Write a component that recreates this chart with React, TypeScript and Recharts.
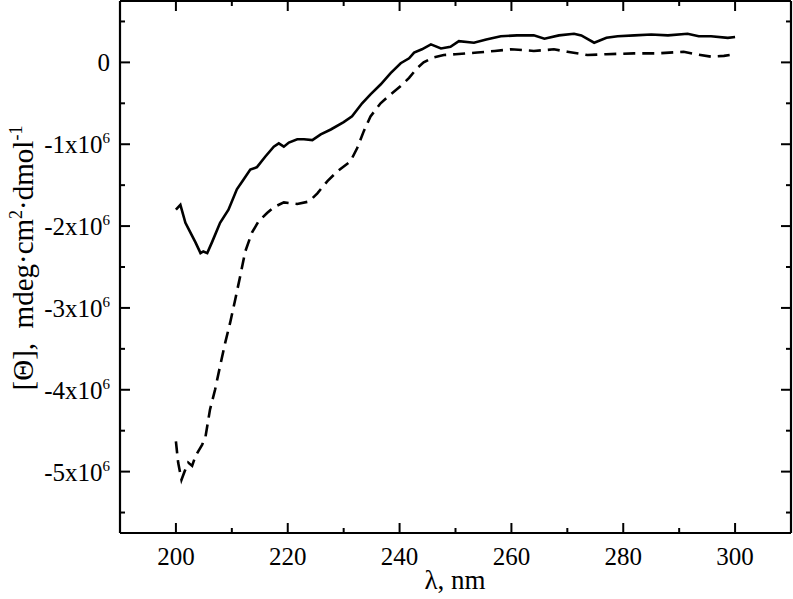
import React from 'react';
import { LineChart, Line, XAxis, YAxis } from 'recharts';

const FONT = '"Liberation Serif", "Times New Roman", Times, serif';

// wavelength, nm
const solidLambda = [
  200.0, 200.8, 201.7, 202.6, 203.5, 204.4, 204.9, 205.6, 206.5, 207.9,
  209.4, 210.9, 212.1, 213.3, 214.5, 216.0, 217.5, 218.4, 219.3, 220.2,
  221.7, 222.9, 224.4, 225.9, 227.7, 230.0, 231.5, 233.3, 234.8, 236.6,
  238.4, 240.2, 241.7, 242.6, 244.0, 245.6, 247.4, 249.1, 250.6, 253.3,
  255.5, 258.1, 261.0, 264.0, 265.9, 268.5, 271.2, 272.5, 274.8, 277.0,
  279.0, 282.0, 285.0, 288.0, 291.5, 293.5, 295.7, 298.7, 300.0,
];
// [Θ] in units of 10^6 mdeg·cm²·dmol⁻¹
const solidTheta = [
  -1.80, -1.74, -1.96, -2.08, -2.20, -2.33, -2.31, -2.33, -2.19, -1.96,
  -1.80, -1.55, -1.43, -1.31, -1.28, -1.15, -1.03, -0.99, -1.03, -0.98,
  -0.94, -0.94, -0.95, -0.88, -0.82, -0.73, -0.66, -0.50, -0.39, -0.27,
  -0.13, -0.01, 0.05, 0.12, 0.16, 0.22, 0.17, 0.19, 0.26, 0.24,
  0.28, 0.32, 0.33, 0.33, 0.29, 0.33, 0.35, 0.33, 0.24, 0.30,
  0.32, 0.33, 0.34, 0.33, 0.35, 0.32, 0.32, 0.30, 0.31,
];

const dashedLambda = [
  200.0, 200.4, 201.0, 201.6, 202.2, 202.9, 203.5, 204.7, 205.3, 206.1,
  207.0, 207.9, 208.8, 209.7, 210.6, 211.5, 212.4, 213.6, 214.8, 216.3,
  217.5, 219.3, 221.7, 223.8, 225.3, 227.1, 228.9, 231.2, 232.4, 233.6,
  234.8, 236.6, 238.4, 240.2, 241.7, 243.0, 244.3, 246.0, 247.9, 250.0,
  253.9, 257.0, 259.9, 262.0, 264.0, 266.0, 267.6, 270.0, 273.6, 277.0,
  281.9, 286.0, 290.8, 293.0, 295.7, 298.0, 300.0,
];
const dashedTheta = [
  -4.63, -4.89, -5.10, -4.99, -4.89, -4.93, -4.81, -4.67, -4.57, -4.24,
  -4.00, -3.71, -3.43, -3.18, -2.90, -2.61, -2.31, -2.08, -1.94, -1.84,
  -1.77, -1.71, -1.73, -1.70, -1.60, -1.45, -1.33, -1.21, -1.05, -0.84,
  -0.66, -0.50, -0.39, -0.29, -0.19, -0.08, 0.00, 0.06, 0.09, 0.10,
  0.12, 0.14, 0.16, 0.15, 0.14, 0.15, 0.16, 0.13, 0.09, 0.10,
  0.11, 0.11, 0.13, 0.10, 0.07, 0.08, 0.10,
];

const xTicks = [200, 210, 220, 230, 240, 250, 260, 270, 280, 290, 300];
const xLabeledTicks = [200, 220, 240, 260, 280, 300];
const yTicks = [0.5, 0, -0.5, -1, -1.5, -2, -2.5, -3, -3.5, -4, -4.5, -5, -5.5];
const yLabeledTicks = [0, -1, -2, -3, -4, -5];

const xDomain = [190, 310];
const yDomain = [-5.75, 0.75];

const solidData = solidLambda.map((x, i) => ({ x, v: solidTheta[i] }));
const dashedData = dashedLambda.map((x, i) => ({ x, v: dashedTheta[i] }));

const isXLabeled = (v: number) => xLabeledTicks.some((t) => Math.abs(t - v) < 1e-6);
const isYLabeled = (v: number) => yLabeledTicks.some((t) => Math.abs(t - v) < 1e-6);

const MAJ = 10;
const MIN = 5;

const BottomTick = (props: any) => {
  const { x, y, payload } = props;
  const v = payload.value;
  const major = isXLabeled(v);
  return (
    <g>
      <line x1={x} y1={y} x2={x} y2={y - (major ? MAJ : MIN)} stroke="#000" strokeWidth={2} />
      {major && (
        <text x={x} y={y + 32} textAnchor="middle" fontFamily={FONT} fontSize={25} fill="#000">
          {v}
        </text>
      )}
    </g>
  );
};

const TopTick = (props: any) => {
  const { x, y, payload } = props;
  const major = isXLabeled(payload.value);
  return <line x1={x} y1={y} x2={x} y2={y + (major ? MAJ : MIN)} stroke="#000" strokeWidth={2} />;
};

const LeftTick = (props: any) => {
  const { x, y, payload } = props;
  const v = payload.value;
  const major = isYLabeled(v);
  const n = Math.round(v);
  return (
    <g>
      <line x1={x} y1={y} x2={x + (major ? MAJ : MIN)} y2={y} stroke="#000" strokeWidth={2} />
      {major && (
        <text x={x - 10} y={y + 9} textAnchor="end" fontFamily={FONT} fontSize={25} fill="#000">
          {n === 0 ? (
            '0'
          ) : (
            <>
              <tspan>{`${n}x10`}</tspan>
              <tspan dy={-10} fontSize={15}>6</tspan>
            </>
          )}
        </text>
      )}
    </g>
  );
};

const RightTick = (props: any) => {
  const { x, y, payload } = props;
  const major = isYLabeled(payload.value);
  return <line x1={x} y1={y} x2={x - (major ? MAJ : MIN)} y2={y} stroke="#000" strokeWidth={2} />;
};

const YTitle = () => (
  <text
    transform="translate(33,258) rotate(-90)"
    textAnchor="middle"
    fontFamily={FONT}
    fontSize={29}
    fill="#000"
    style={{ whiteSpace: 'pre' }}
  >
    <tspan>{'[Θ],  mdeg·cm'}</tspan>
    <tspan dy={-11} fontSize={18}>2</tspan>
    <tspan dy={11}>·dmol</tspan>
    <tspan dy={-11} fontSize={18}>-1</tspan>
  </text>
);

const XTitle = () => (
  <text x={455} y={589} textAnchor="middle" fontFamily={FONT} fontSize={27} fill="#000">
    λ, nm
  </text>
);

const axisLine = { stroke: '#000', strokeWidth: 2.2 };

export default function App() {
  return (
    <div style={{ position: 'absolute', left: 0, top: 0, background: '#fff' }}>
      <LineChart width={793} height={599} margin={{ top: 0, right: 1, bottom: 0, left: 0 }}>
        <XAxis
          xAxisId="bottom"
          orientation="bottom"
          type="number"
          dataKey="x"
          domain={xDomain}
          ticks={xTicks}
          interval={0}
          height={66}
          tickSize={0}
          tickMargin={0}
          tickLine={false}
          axisLine={axisLine}
          tick={<BottomTick />}
          label={<XTitle />}
          allowDataOverflow
        />
        <XAxis
          xAxisId="top"
          orientation="top"
          type="number"
          dataKey="x"
          domain={xDomain}
          ticks={xTicks}
          interval={0}
          height={1}
          tickSize={0}
          tickMargin={0}
          tickLine={false}
          axisLine={axisLine}
          tick={<TopTick />}
          allowDataOverflow
        />
        <YAxis
          yAxisId="left"
          orientation="left"
          type="number"
          domain={yDomain}
          ticks={yTicks}
          interval={0}
          width={120}
          tickSize={0}
          tickMargin={0}
          tickLine={false}
          axisLine={axisLine}
          tick={<LeftTick />}
          label={<YTitle />}
          allowDataOverflow
        />
        <YAxis
          yAxisId="right"
          orientation="right"
          type="number"
          domain={yDomain}
          ticks={yTicks}
          interval={0}
          width={1}
          tickSize={0}
          tickMargin={0}
          tickLine={false}
          axisLine={axisLine}
          tick={<RightTick />}
          allowDataOverflow
        />
        <Line
          xAxisId="top"
          yAxisId="right"
          data={solidData}
          dataKey="v"
          stroke="none"
          dot={false}
          legendType="none"
          isAnimationActive={false}
        />
        <Line
          xAxisId="bottom"
          yAxisId="left"
          data={solidData}
          dataKey="v"
          type="linear"
          stroke="#000"
          strokeWidth={2.6}
          dot={false}
          isAnimationActive={false}
        />
        <Line
          xAxisId="bottom"
          yAxisId="left"
          data={dashedData}
          dataKey="v"
          type="linear"
          stroke="#000"
          strokeWidth={2.6}
          strokeDasharray="12 7"
          dot={false}
          isAnimationActive={false}
        />
      </LineChart>
    </div>
  );
}
